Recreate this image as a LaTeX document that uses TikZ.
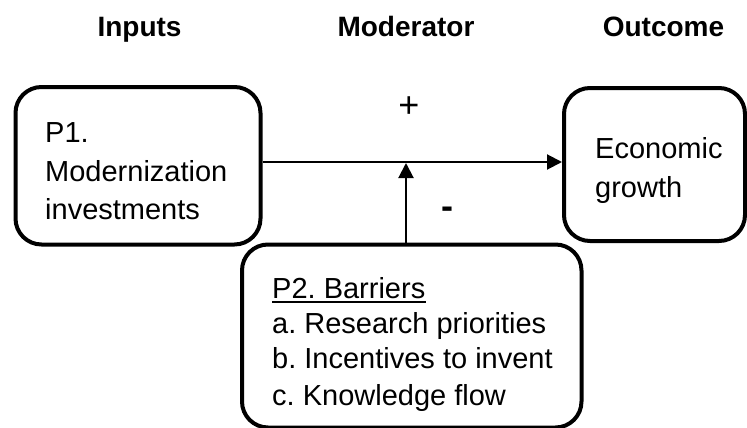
\documentclass[tikz,border=0pt]{standalone}
\usepackage{fontspec}
\setmainfont{Liberation Sans}
\usetikzlibrary{arrows.meta}
\frenchspacing
\tikzset{
  box/.style={draw=black, line width=4pt, rounded corners=26pt, fill=none, inner sep=0pt},
  txt/.style={anchor=base west, inner sep=0pt, font=\fontsize{29}{34}\selectfont},
  head/.style={anchor=base, inner sep=0pt, font=\fontsize{28}{34}\selectfont\bfseries},
  arr/.style={line width=2pt, -{Triangle[length=15pt,width=15pt]}},
}
\begin{document}
\begin{tikzpicture}[x=1pt,y=-1pt]
\useasboundingbox (0,0) rectangle (747,428);
% headers
\node[head] (hin) at (139.5,37) {Inputs};
\node[head] (hmod) at (406,37) {Moderator};
\node[head] (hout) at (663.5,37) {Outcome};
% boxes
\node[box, minimum width=245pt, minimum height=157.5pt] (p1) at (138,165.75) {};
\node[box, minimum width=181pt, minimum height=153pt] (eco) at (654.5,164.5) {};
\node[box, minimum width=339.5pt, minimum height=183pt] (p2) at (411.75,336) {};
% texts
\node[txt] (p1a) at (45,142) {P1.};
\node[txt] (p1b) at (45,181) {Modernization};
\node[txt] (p1c) at (45,219) {investments};
\node[txt] (ecoa) at (595,158) {Economic};
\node[txt] (ecob) at (595,197) {growth};
\node[txt] (p2t) at (272,298) {P2. Barriers};
\draw[line width=2pt] ([yshift=-3.5pt]p2t.base west) -- ([yshift=-3.5pt]p2t.base east);
\node[txt] (p2a) at (272,333) {a. Research priorities};
\node[txt] (p2b) at (272,368.5) {b. Incentives to invent};
\node[txt] (p2c) at (272,405) {c. Knowledge flow};
% connectors
\coordinate (m) at (406,162);
\coordinate (mt) at (406,163);
\draw[arr] (p1.east |- m) -- (eco.west |- m);
\draw[arr] (mt |- p2.north) -- (mt);
\node[inner sep=0pt, font=\fontsize{36}{40}\selectfont] (plus) at (409,107) {+};
\node[inner sep=0pt, font=\fontsize{36}{40}\selectfont\bfseries] (minus) at (447,213) {-};
\end{tikzpicture}
\end{document}
